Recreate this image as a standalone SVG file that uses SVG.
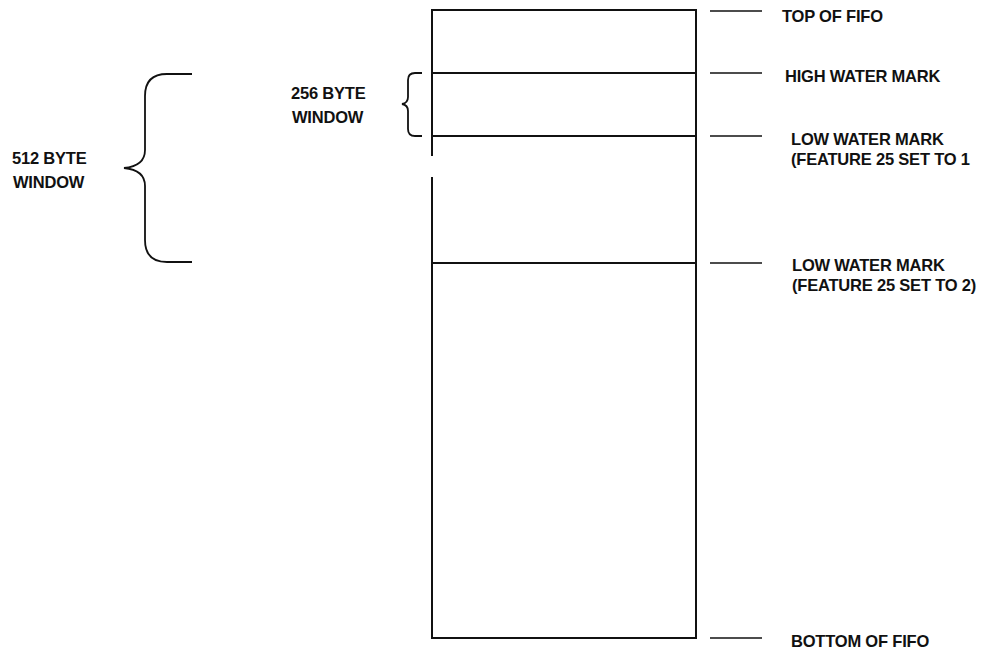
<svg xmlns="http://www.w3.org/2000/svg" width="996" height="654" viewBox="0 0 996 654">
<style>
.ln{stroke:#111;stroke-width:2;fill:none;stroke-linecap:square}
.tk{stroke:#111;stroke-width:1.7;fill:none}
.br{stroke:#111;stroke-width:1.8;fill:none}
.t{font-family:"Liberation Sans",Arial,sans-serif;font-weight:bold;font-size:16.5px;letter-spacing:-0.2px;fill:#111}
</style>
<rect width="996" height="654" fill="#fff"/>
<g id="fifo">
<path class="ln" d="M432,155 L432,10 L696,10 L696,638 L432,638 L432,178"/>
<line class="ln" x1="432" y1="73" x2="696" y2="73"/>
<line class="ln" x1="432" y1="136" x2="696" y2="136"/>
<line class="ln" x1="432" y1="263" x2="696" y2="263"/>
</g>
<g id="connectors">
<line class="tk" x1="710" y1="11" x2="762" y2="11"/>
<line class="tk" x1="710" y1="73" x2="762" y2="73"/>
<line class="tk" x1="710" y1="136" x2="762" y2="136"/>
<line class="tk" x1="710" y1="263" x2="762" y2="263"/>
<line class="tk" x1="710" y1="638" x2="762" y2="638"/>
</g>
<g id="brace512">
<path class="br" d="M192,74 L167,74 Q145,74 145,96 L145,150 Q145,166 124,168 Q145,170 145,186 L145,240 Q145,262 167,262 L192,262"/>
<text class="t" x="12" y="164">512 BYTE</text>
<text class="t" x="13" y="188">WINDOW</text>
</g>
<g id="brace256">
<path class="br" d="M422,73 L415,73 Q408,73 408,80 L408,97 Q408,103 402,104 Q408,105 408,111 L408,129 Q408,136 415,136 L422,136"/>
<text class="t" x="291" y="99">256 BYTE</text>
<text class="t" x="292" y="123">WINDOW</text>
</g>
<g id="labels">
<text class="t" x="782" y="22">TOP OF FIFO</text>
<text class="t" x="785" y="82">HIGH WATER MARK</text>
<text class="t" x="791" y="145">LOW WATER MARK</text>
<text class="t" x="791" y="164.5">(FEATURE 25 SET TO 1</text>
<text class="t" x="792" y="271">LOW WATER MARK</text>
<text class="t" x="792" y="290.5">(FEATURE 25 SET TO 2)</text>
<text class="t" x="791" y="647">BOTTOM OF FIFO</text>
</g>
</svg>
